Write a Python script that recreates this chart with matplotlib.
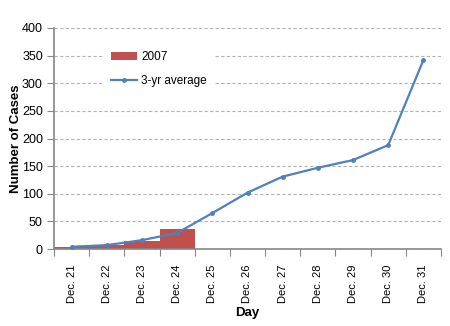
import numpy as np
import matplotlib
matplotlib.use('Agg')
import matplotlib.pyplot as plt

# Data
days = ['Dec. 21', 'Dec. 22', 'Dec. 23', 'Dec. 24', 'Dec. 25', 'Dec. 26',
        'Dec. 27', 'Dec. 28', 'Dec. 29', 'Dec. 30', 'Dec. 31']
cases_2007 = [3, 7, 14, 36, 0, 0, 0, 0, 0, 0, 0]
avg_3yr = [4, 7, 16, 29, 65, 102, 131, 147, 161, 188, 342]

plt.rcParams['font.family'] = ['Liberation Sans', 'DejaVu Sans']

fig = plt.figure(figsize=(4.5, 3.26), dpi=100)
ax = fig.add_axes([54 / 450, 1 - 249 / 326, 387 / 450, 221 / 326])

x = np.arange(len(days))
bars = ax.bar(x, cases_2007, width=1.0, color='#c0504d', label='2007', zorder=2)
line, = ax.plot(x, avg_3yr, color='#4f81bd', lw=1.6, marker='o', ms=2.5,
                label='3-yr average', zorder=3)

ax.set_xlim(-0.5, len(days) - 0.5)
ax.set_ylim(0, 400)
ax.set_yticks(np.arange(0, 401, 50))
ax.tick_params(axis='y', labelsize=9, length=5, color='#868686', pad=3)

# category ticks sit between the days
ax.set_xticks(np.arange(-0.5, len(days), 1.0))
ax.set_xticklabels([])
ax.set_xticks(x, minor=True)
ax.set_xticklabels(days, minor=True, rotation=90, fontsize=8)
ax.tick_params(axis='x', which='major', length=5, color='#868686')
ax.tick_params(axis='x', which='minor', length=0, pad=11)

ax.grid(axis='y', color='#b3b3b3', ls=(0, (3, 2)), lw=0.8, zorder=0)
ax.set_axisbelow(True)
for s in ['top', 'right']:
    ax.spines[s].set_visible(False)
for s in ['left', 'bottom']:
    ax.spines[s].set_color('#868686')
    ax.spines[s].set_linewidth(1.2)

ax.set_ylabel('Number of Cases', fontsize=9.5, fontweight='bold', labelpad=0)
ax.set_xlabel('Day', fontsize=9.5, fontweight='bold', labelpad=3)

leg = ax.legend([bars, line], ['2007', '3-yr average'], loc='upper left',
                bbox_to_anchor=(0.115, 0.955), frameon=True,
                fontsize=8.5, handlelength=2.2,
                handletextpad=0.3, labelspacing=1.0, borderpad=0.6,
                fancybox=False)
leg.get_frame().set_edgecolor('none')
leg.get_frame().set_facecolor('white')
leg.get_frame().set_alpha(1)

fig.savefig('out.png', dpi=100)
